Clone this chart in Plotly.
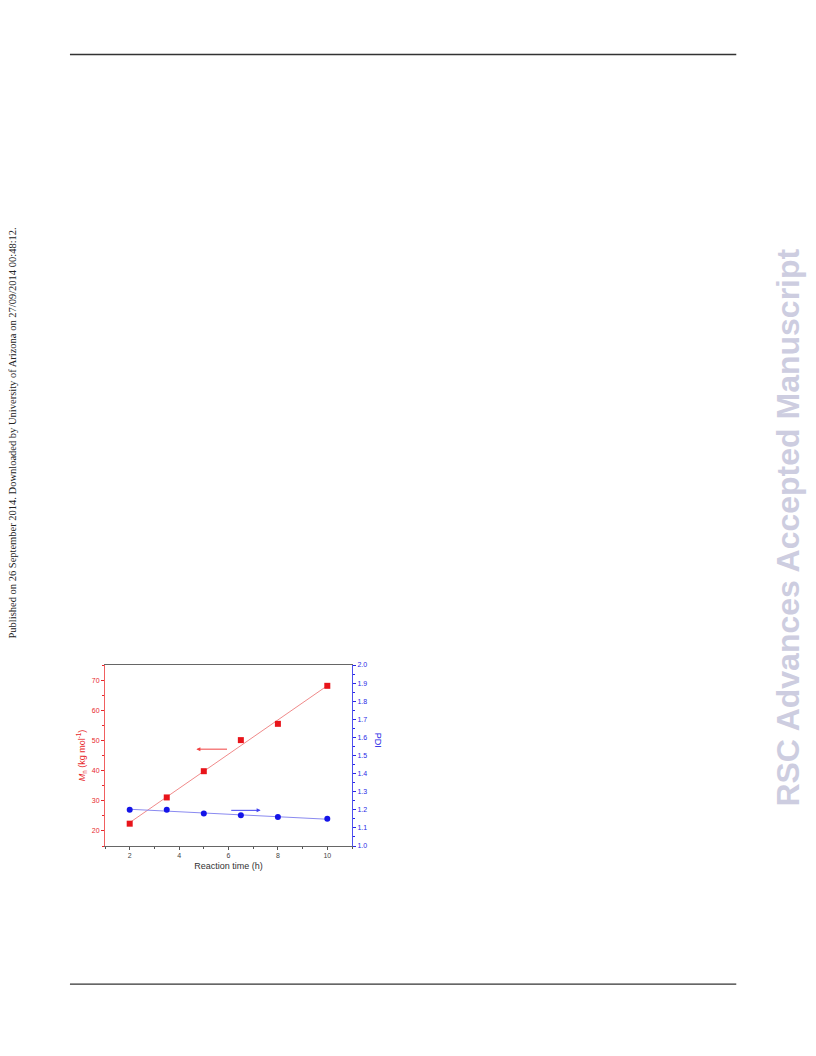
import numpy as np
import plotly.graph_objects as go

# ---- data ----
time_h = [2, 3.5, 5, 6.5, 8, 10]
mn_kg = [22.4, 31.1, 39.8, 50.1, 55.5, 68.1]
pdi = [1.20, 1.20, 1.18, 1.17, 1.16, 1.15]
x_ticks = [2, 4, 6, 8, 10]
mn_ticks = [20, 30, 40, 50, 60, 70]
pdi_ticks = [1.0, 1.1, 1.2, 1.3, 1.4, 1.5, 1.6, 1.7, 1.8, 1.9, 2.0]

RED = "#e8282c"
BLUE = "#2828e6"
FONT = "Liberation Sans"

# linear fits
fit_x = [min(time_h), max(time_h)]
p_mn = np.polyfit(time_h, mn_kg, 1)
p_pdi = np.polyfit(time_h, pdi, 1)
fit_mn = list(np.polyval(p_mn, fit_x))
fit_pdi = list(np.polyval(p_pdi, fit_x))

OFF = 8  # default page body margin
W, H = 816 - OFF, 1056 - OFF
L, R, T, B = 105 - OFF, 351.7 - OFF, 665 - OFF, 845.7 - OFF

def px(x):
    return (x - OFF - L) / (R - L)

def py(y):
    return (B - (y - OFF)) / (B - T)

fig = go.Figure()
fig.add_trace(go.Scatter(x=fit_x, y=fit_mn, mode="lines",
                         line=dict(color="#f08a8a", width=1), showlegend=False))
fig.add_trace(go.Scatter(x=time_h, y=mn_kg, mode="markers",
                         marker=dict(symbol="square", size=6, color="#e8141a"), showlegend=False))
fig.add_trace(go.Scatter(x=fit_x, y=fit_pdi, mode="lines", yaxis="y2",
                         line=dict(color="#8a8af0", width=1), showlegend=False))
fig.add_trace(go.Scatter(x=time_h, y=pdi, mode="markers", yaxis="y2",
                         marker=dict(symbol="circle", size=6, color="#1414e8"), showlegend=False))

fig.update_layout(
    width=W, height=H,
    margin=dict(l=L, r=W - R, t=T, b=H - B, pad=0),
    plot_bgcolor="white", paper_bgcolor="white",
    font=dict(family=FONT, size=7, color="#444"),
    xaxis=dict(range=[1, 11], tickvals=x_ticks, ticks="outside", ticklen=3, tickcolor="#555",
               minor=dict(dtick=1, tick0=1, ticks="outside", ticklen=2, tickcolor="#555"),
               showgrid=False, zeroline=False, showline=True, linecolor="#666", linewidth=1,
               mirror=True, tickfont=dict(size=7, color="#444"),
               title=dict(text="Reaction time (h)", font=dict(size=9, color="#333"), standoff=4)),
    yaxis=dict(range=[15, 75], tickvals=mn_ticks, ticks="outside", ticklen=3, tickcolor=RED,
               minor=dict(dtick=5, tick0=15, ticks="outside", ticklen=2, tickcolor=RED),
               showgrid=False, zeroline=False, showline=True, linecolor="#f06060", linewidth=1,
               tickfont=dict(size=7, color=RED),
               title=dict(text="<i>M</i><sub>n</sub> (kg mol<sup>-1</sup>)",
                          font=dict(size=9, color=RED), standoff=4)),
    yaxis2=dict(range=[1.0, 2.0], overlaying="y", side="right", tickvals=pdi_ticks,
                tickformat=".1f", ticks="outside", ticklen=3, tickcolor=BLUE,
                minor=dict(dtick=0.05, tick0=1.0, ticks="outside", ticklen=2, tickcolor=BLUE),
                showgrid=False, zeroline=False, showline=True, linecolor="#5050f0", linewidth=1,
                tickfont=dict(size=7, color=BLUE)),
)

# arrows
fig.add_annotation(x=4.7, y=47.1, ax=6.0, ay=47.1, xref="x", yref="y", axref="x", ayref="y",
                   text="", showarrow=True, arrowhead=2, arrowsize=0.8, arrowwidth=1,
                   arrowcolor="#f04040")
fig.add_annotation(x=7.3, y=1.197, ax=6.05, ay=1.197, xref="x", yref="y2", axref="x", ayref="y2",
                   text="", showarrow=True, arrowhead=2, arrowsize=0.8, arrowwidth=1,
                   arrowcolor="#4040f0")

# right axis title (rotated clockwise)
fig.add_annotation(x=px(378), y=py(740), xref="paper", yref="paper", text="PDI",
                   textangle=90, showarrow=False, font=dict(size=9, color=BLUE),
                   xanchor="center", yanchor="middle")

# page elements
for yy in (55.5, 983.5):
    fig.add_shape(type="line", xref="paper", yref="paper",
                  x0=px(70), x1=px(735.5), y0=py(yy), y1=py(yy),
                  line=dict(color="#333", width=1.3))

fig.add_annotation(x=px(13), y=py(433), xref="paper", yref="paper",
                   text="Published on 26 September 2014. Downloaded by University of Arizona on 27/09/2014 00:48:12.",
                   textangle=-90, showarrow=False,
                   font=dict(family="Liberation Serif", size=10.5, color="#222"),
                   xanchor="center", yanchor="middle")
fig.add_annotation(x=px(787), y=py(528), xref="paper", yref="paper",
                   text="<b>RSC Advances Accepted Manuscript</b>",
                   textangle=-90, showarrow=False,
                   font=dict(family="Liberation Sans", size=32, color="#cdcde0"),
                   xanchor="center", yanchor="middle")

fig.write_html("out.html")
